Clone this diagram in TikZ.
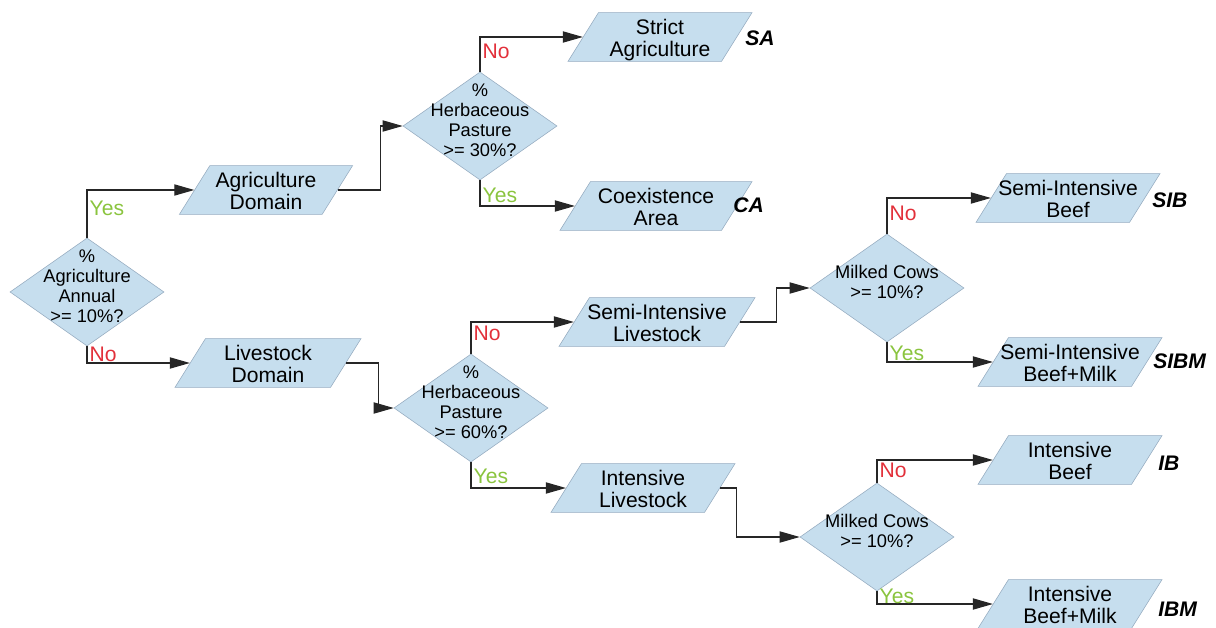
\documentclass[tikz,border=0pt]{standalone}
\usepackage{fontspec}
\setmainfont{Liberation Sans}
\usetikzlibrary{shapes.geometric,arrows.meta,positioning}
\definecolor{boxblue}{RGB}{198,222,238}
\definecolor{boxline}{RGB}{150,172,192}
\definecolor{noRed}{RGB}{226,48,58}
\definecolor{yesGreen}{RGB}{138,196,62}
\newcommand{\lns}[2][0cm]{\raisebox{#1}{\smash{\makebox[0pt]{\begin{tabular}{@{}c@{}}#2\end{tabular}}}}}
\newcommand{\pns}[1]{\vrule height 0.61cm depth 0.61cm width 0pt\lns[-0.22cm]{#1}}
\tikzset{quest/.style={diamond,draw=boxline,fill=boxblue,minimum width=3.85cm,minimum height=2.7cm,inner sep=0pt,font=\fontsize{13}{14.3}\selectfont},
	para/.style={trapezium,trapezium left angle=58,trapezium right angle=122,trapezium stretches body,draw=boxline,fill=boxblue,minimum width=4.6cm,inner sep=0pt,font=\fontsize{15}{15.8}\selectfont},
	code/.style={anchor=west,inner sep=0pt,font=\fontsize{15}{16}\selectfont\bfseries\itshape},
	flow/.style={draw=black!85,line width=0.8pt,-{Triangle[length=5mm,width=2.8mm]}},
	nolbl/.style={right,inner sep=1.5pt,text=noRed,font=\fontsize{15}{16}\selectfont},
	yeslbl/.style={right,inner sep=1.5pt,text=yesGreen,font=\fontsize{15}{16}\selectfont}}

\begin{document}
\begin{tikzpicture}[x=0.025cm,y=-0.025cm]
	\useasboundingbox (0,0) rectangle (1216,628);

	\node[quest] (d1) at (87,292) {\lns[-0.05cm]{\%\\Agriculture\\Annual\\>= 10\%?}};
	\node[para,minimum width=4.33cm] (agri) at (266,190) {\pns{Agriculture\\Domain}};
	\node[para,minimum width=4.65cm] (live) at (268,363) {\pns{Livestock\\Domain}};

	\node[quest] (d2) at (480,126) {\lns[-0.05cm]{\%\\Herbaceous\\Pasture\\>= 30\%?}};
	\node[para] (strict) at (660,37) {\pns{Strict\\Agriculture}};
	\node[para,minimum width=4.8cm] (coex) at (656,206) {\pns{Coexistence\\Area}};

	\node[quest] (d3) at (471,408) {\lns[-0.05cm]{\%\\Herbaceous\\Pasture\\>= 60\%?}};
	\node[para,minimum width=4.9cm] (semil) at (657,322) {\pns{Semi-Intensive\\Livestock}};
	\node[para] (intl) at (643,488) {\pns{Intensive\\Livestock}};

	\node[quest] (d4) at (887,288) {\lns[-0.05cm]{Milked Cows\\>= 10\%?}};
	\node[para] (sib) at (1068,198) {\pns{Semi-Intensive\\Beef}};
	\node[para] (sibm) at (1070,362) {\pns{Semi-Intensive\\Beef+Milk}};

	\node[quest] (d5) at (877,537) {\lns[-0.05cm]{Milked Cows\\>= 10\%?}};
	\node[para] (ib) at (1070,460) {\pns{Intensive\\Beef}};
	\node[para] (ibm) at (1070,604) {\pns{Intensive\\Beef+Milk}};

	% class codes
	\node[code] (sa) at (745,38) {SA};
	\node[code] (ca) at (733,205) {CA};
	\node[code] (sibc) at (1152,200) {SIB};
	\node[code] (sibmc) at (1153,361) {SIBM};
	\node[code] (ibc) at (1158,463) {IB};
	\node[code] (ibmc) at (1158,609) {IBM};

	\draw[flow] (d1.north) |- node[yeslbl,pos=0.31] {Yes} (agri.west);
	\draw[flow] (d1.south) |- node[nolbl,pos=0.24] {No} (live.west);
	\draw[flow] (agri.east) -- ++(43,0) |- (d2.west);
	\draw[flow] (d2.north) |- node[nolbl,pos=0.3] {No} (strict.west);
	\draw[flow] (d2.south) |- node[yeslbl,pos=0.29] {Yes} (coex.west);
	\draw[flow] (live.east) -- ++(32,0) |- (d3.west);
	\draw[flow] (d3.north) |- node[nolbl,pos=0.32] {No} (semil.west);
	\draw[flow] (d3.south) |- node[yeslbl,pos=0.28] {Yes} (intl.west);
	\draw[flow] (semil.east) -- ++(36,0) |- (d4.west);
	\draw[flow] (d4.north) |- node[nolbl,pos=0.29] {No} (sib.west);
	\draw[flow] (d4.south) |- node[yeslbl,pos=0.27] {Yes} (sibm.west);
	\draw[flow] (intl.east) -- ++(16,0) |- (d5.west);
	\draw[flow] (d5.north) |- node[nolbl,pos=0.28] {No} (ib.west);
	\draw[flow] (d5.south) |- node[yeslbl,pos=0.2] {Yes} (ibm.west);
\end{tikzpicture}
\end{document}
